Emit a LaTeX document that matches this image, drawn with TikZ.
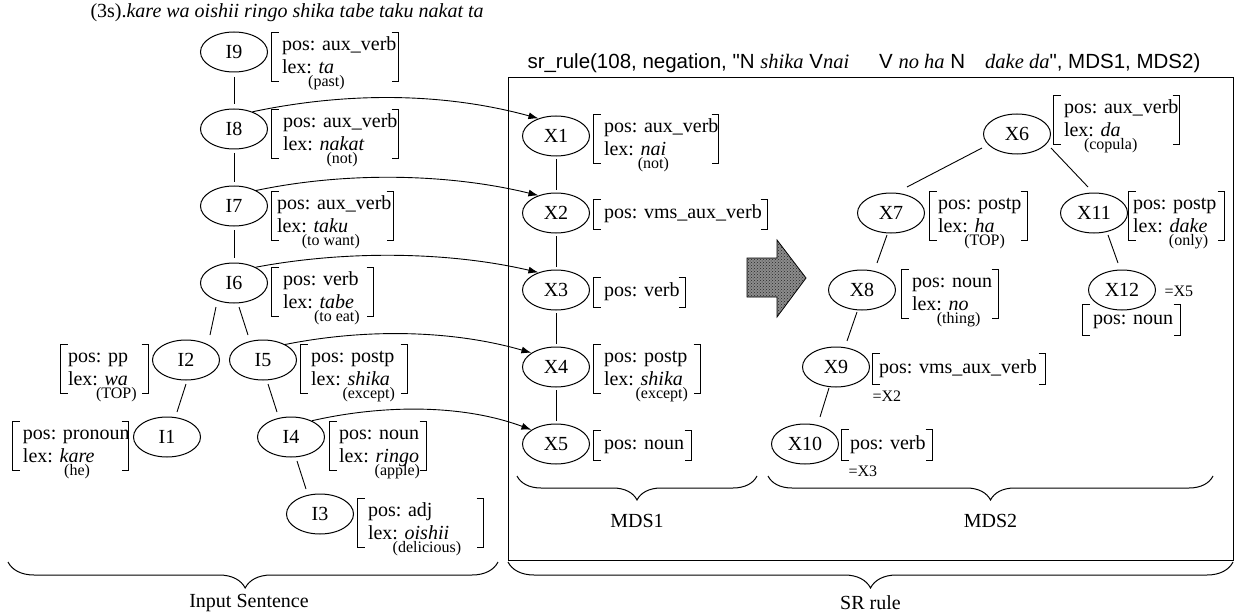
\documentclass[tikz,border=0pt]{standalone}
\usepackage{fontspec}
\setmainfont{Liberation Serif}
\newfontfamily\arialfont{Liberation Sans}
\usetikzlibrary{calc,arrows.meta,decorations.pathreplacing,patterns,shapes.geometric}

% font sizes (1pt = 1 output pixel)
\newcommand\fsz{\fontsize{20}{23}\selectfont}
\newcommand\glsz{\fontsize{16}{16}\selectfont}
\newcommand\hdsz{\fontsize{20.5}{23}\selectfont}

% lexical value with its gloss centred underneath
\newlength\glwd
\newcommand\gl[2]{\settowidth\glwd{\textit{#1}}\textit{#1}\hspace{-\glwd}%
  \makebox[\glwd][c]{\raisebox{-13pt}[0pt][0pt]{\glsz(#2)}}}
% serif italic inside the sans heading
\newcommand\jit[1]{{\normalfont\itshape #1}}

% feature structure: name, centre, width, height, text indent, lines
\newcommand\feat[6]{\node[fs={#3}{#4}, label={[ft, xshift=#5pt]west:{#6}}] (#1) at (#2) {};}

\begin{document}
\begin{tikzpicture}[x=1pt, y=-1pt, line width=1pt,
  nd/.style={ellipse, draw, minimum width=67pt, minimum height=40pt, inner sep=0pt, font=\fsz},
  fs/.style 2 args={rectangle, inner sep=0pt, minimum width=#1pt, minimum height=#2pt},
  ft/.style={align=left, inner sep=0pt, font=\fsz, anchor=west},
  brk/.style={line width=1pt},
  edge/.style={line width=0.9pt},
  link/.style={line width=0.9pt, -{Latex[length=10pt,width=7pt]}},
  note/.style={font=\glsz, inner sep=0pt},
  bracetext/.style={font=\fsz, inner sep=0pt},
  curly/.style={decorate, decoration={brace, mirror, amplitude=#1}, line width=1pt}]
\useasboundingbox (0,0) rectangle (1237,615);

% sentence
\node[anchor=base west, inner sep=0pt, font=\fsz] (title) at (90,18)
  {(3s).\textit{kare wa oishii ringo shika tabe taku nakat ta}};

% ---------------- input sentence tree ----------------
\node[nd] (I9) at (234,52) {I9};
\node[nd] (I8) at (234,129) {I8};
\node[nd] (I7) at (234,206) {I7};
\node[nd] (I6) at (234,283) {I6};
\node[nd] (I2) at (186,360) {I2};
\node[nd] (I5) at (263,360) {I5};
\node[nd] (I1) at (167,437) {I1};
\node[nd] (I4) at (291,437) {I4};
\node[nd] (I3) at (320,514) {I3};

\feat{f9}{335,57}{126}{48}{10}{\strut pos: aux\_verb\\\strut lex: \gl{ta}{past}}
\feat{f8}{335,134}{126}{48}{11}{\strut pos: aux\_verb\\\strut lex: \gl{nakat}{not}}
\feat{f7}{332.5,216}{121}{48}{5}{\strut pos: aux\_verb\\\strut lex: \gl{taku}{to want}}
\feat{f6}{322.5,292}{101}{48}{11}{\strut pos: verb\\\strut lex: \gl{tabe}{to eat}}
\feat{f2}{104.5,369}{87}{48}{7}{\strut pos: pp\\\strut lex: \gl{wa}{TOP}}
\feat{f5}{354,369}{106}{48}{10}{\strut pos: postp\\\strut lex: \gl{shika}{except}}
\feat{f1}{70.5,446}{115}{48}{10}{\strut pos: pronoun\\\strut lex: \gl{kare}{he}}
\feat{f4}{378,446}{96}{48}{9}{\strut pos: noun\\\strut lex: \gl{ringo}{apple}}
\feat{f3}{420.5,523}{125}{48}{10}{\strut pos: adj\\\strut lex: \gl{oishii}{delicious}}

\draw[edge] ($(I9)+(0,25)$) -- ($(I8)+(0,-25)$);
\draw[edge] ($(I8)+(0,24)$) -- ($(I7)+(0,-24)$);
\draw[edge] ($(I7)+(0,24)$) -- ($(I6)+(0,-25)$);
\draw[edge] ($(I6)+(-18,24)$) -- ($(I2)+(24,-25)$);
\draw[edge] ($(I6)+(5,24)$) -- ($(I5)+(-15,-25)$);
\draw[edge] ($(I2)+(0,24)$) -- ($(I1)+(10,-25)$);
\draw[edge] ($(I5)+(5,24)$) -- ($(I4)+(-14,-25)$);
\draw[edge] ($(I4)+(6,24)$) -- ($(I3)+(-14,-25)$);

% ---------------- SR rule frame ----------------
\node[anchor=base west, inner sep=0pt, font=\arialfont\hdsz] (head) at (527,69)
  {sr\_rule(108, negation, "N \jit{shika} V\jit{nai}\hspace{30pt}V \jit{no ha} N\hspace{20pt}\jit{dake da}", MDS1, MDS2)};
\draw (508,78) rectangle (1233,560);

% MDS1
\node[nd] (X1) at (556,136) {X1};
\node[nd] (X2) at (556,213) {X2};
\node[nd] (X3) at (556,290) {X3};
\node[nd] (X4) at (556,367) {X4};
\node[nd] (X5) at (556,444) {X5};

\feat{g1}{656,139}{124}{48}{10}{\strut pos: aux\_verb\\\strut lex: \gl{nai}{not}}
\feat{g2}{680.5,214}{173}{29}{10}{\strut pos: vms\_aux\_verb}
\feat{g3}{639.5,292}{91}{29}{10}{\strut pos: verb}
\feat{g4}{647,369}{106}{48}{10}{\strut pos: postp\\\strut lex: \gl{shika}{except}}
\feat{g5}{642.5,445}{97}{29}{10}{\strut pos: noun}

\draw[edge] ($(X1)+(0,23)$) -- ($(X2)+(0,-23)$);
\draw[edge] ($(X2)+(0,23)$) -- ($(X3)+(0,-23)$);
\draw[edge] ($(X3)+(0,23)$) -- ($(X4)+(0,-23)$);
\draw[edge] ($(X4)+(0,23)$) -- ($(X5)+(0,-23)$);

% MDS2
\node[nd] (X6) at (1017,134) {X6};
\node[nd] (X7) at (891,213) {X7};
\node[nd] (X11) at (1094,213) {X11};
\node[nd] (X8) at (862,290) {X8};
\node[nd] (X12) at (1122,290) {X12};
\node[nd] (X9) at (836,367) {X9};
\node[nd] (X10) at (805,444) {X10};

\feat{h6}{1116.5,120}{125}{48}{10}{\strut pos: aux\_verb\\\strut lex: \gl{da}{copula}}
\feat{h7}{978.5,216}{97}{48}{8}{\strut pos: postp\\\strut lex: \gl{ha}{TOP}}
\feat{h11}{1176.5,216}{95}{48}{4}{\strut pos: postp\\\strut lex: \gl{dake}{only}}
\feat{h8}{950,294}{96}{48}{10}{\strut pos: noun\\\strut lex: \gl{no}{thing}}
\feat{h12}{1131.5,320}{97}{30}{10}{\strut pos: noun}
\feat{h9}{959,369}{172}{30}{6}{\strut pos: vms\_aux\_verb}
\feat{h10}{887,445}{90}{30}{8}{\strut pos: verb}

\node[note, anchor=west] (eq5) at (1164,291) {=X5};
\node[note, anchor=west] (eq2) at (872,396) {=X2};
\node[note, anchor=west] (eq3) at (848,471) {=X3};

\draw[edge] ($(X6)+(-35,14)$) -- ($(X7)+(16,-26)$);
\draw[edge] ($(X6)+(34,14)$) -- ($(X11)+(-6,-26)$);
\draw[edge] ($(X7)+(-4,22)$) -- ($(X8)+(15,-27)$);
\draw[edge] ($(X11)+(14,22)$) -- ($(X12)+(-4,-27)$);
\draw[edge] ($(X8)+(-5,22)$) -- ($(X9)+(11,-26)$);
\draw[edge] ($(X9)+(-7,21)$) -- ($(X10)+(15,-27)$);

% brackets round every feature structure
\foreach \n in {f9,f8,f7,f6,f2,f5,f1,f4,f3,g1,g2,g3,g4,g5,h6,h7,h11,h8,h12,h9,h10}
  \draw[brk] ([xshift=7pt]\n.north west) -| (\n.south west) -- ++(7pt,0)
             ([xshift=-7pt]\n.north east) -| (\n.south east) -- ++(-7pt,0);

% correspondences between the input and MDS1
\draw[link] (I8.43) .. controls +(95,-20) and +(-95,-26) .. (X1.135);
\draw[link] (I7.35) .. controls +(90,-19) and +(-90,-22) .. (X2.135);
\draw[link] (I6.36) .. controls +(90,-17) and +(-90,-21) .. (X3.135);
\draw[link] (I5.35) .. controls +(80,-16) and +(-80,-23) .. (X4.150);
\draw[link] (I4.38) .. controls +(70,-16) and +(-70,-26) .. (X5.150);

% rewriting arrow
\draw[line width=0.8pt, fill=black!45, postaction={pattern=crosshatch dots, pattern color=black!85}]
  (747,258) -- (777,258) -- (777,240) -- (806,278) -- (777,317) -- (777,297) -- (747,297) -- cycle;

% braces
\coordinate (m1a) at (517,476); \coordinate (m1b) at (757,476);
\coordinate (m2a) at (768,476); \coordinate (m2b) at (1213,476);
\coordinate (ina) at (8,562);   \coordinate (inb) at (498,562);
\coordinate (sra) at (508,562); \coordinate (srb) at (1233,562);
\draw[curly=24pt] (m1a) -- (m1b);
\draw[curly=24pt] (m2a) -- (m2b);
\draw[curly=26pt, decoration={aspect=0.484}] (ina) -- (inb);
\draw[curly=26pt] (sra) -- (srb);
\node[bracetext] (mds1) at (637,521) {MDS1};
\node[bracetext] (mds2) at (990.5,521) {MDS2};
\node[bracetext] (inlab) at (249,603) {Input Sentence};
\node[bracetext] (srlab) at (870.5,603) {SR rule};
\end{tikzpicture}
\end{document}
